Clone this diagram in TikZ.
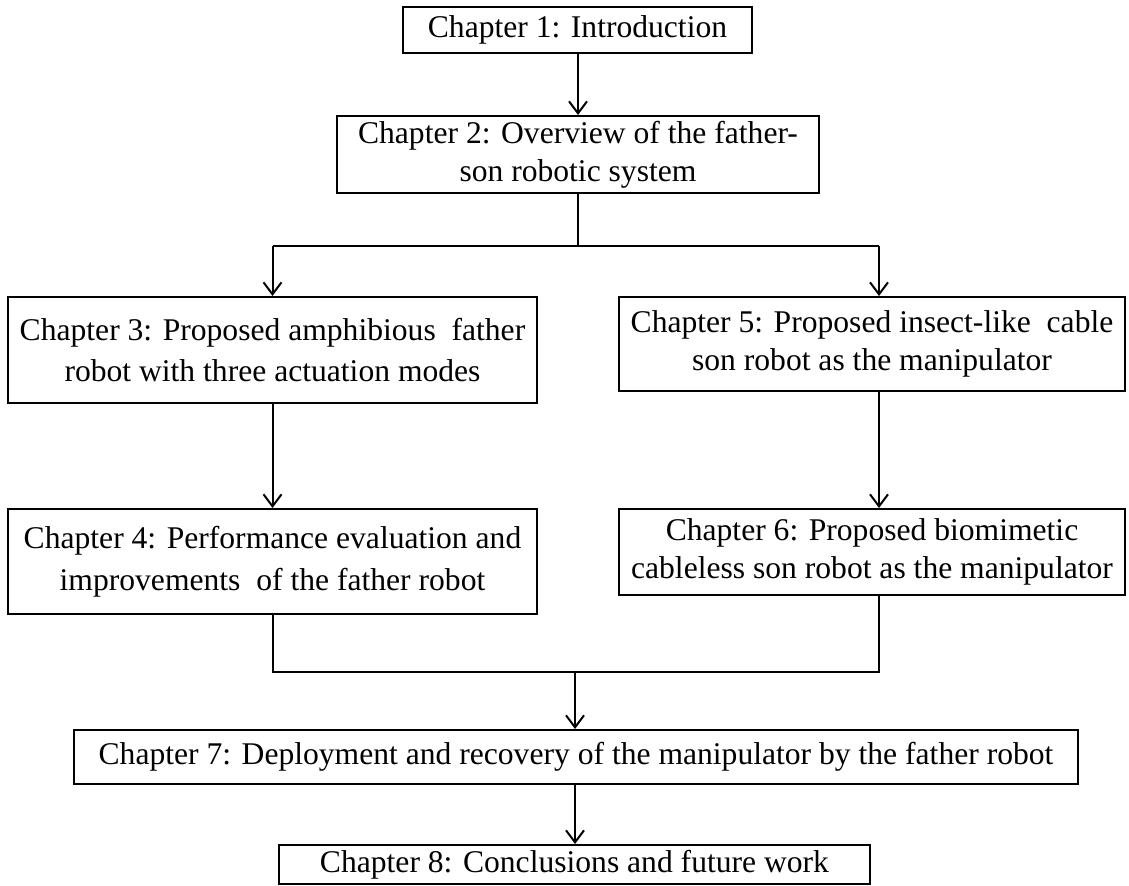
\documentclass[tikz,border=0pt]{standalone}
\usepackage{fontspec}
\setmainfont{Liberation Serif}
\usetikzlibrary{arrows.meta}
\begin{document}
\begin{tikzpicture}[x=0.5pt,y=-0.5pt,
  box/.style={draw, line width=1pt, inner sep=0pt, align=center, font=\fontsize{15.8}{19}\selectfont},
  conn/.style={line width=1pt},
  arr/.style={conn, -{Straight Barb[length=6pt,width=9pt,line width=1pt]}}]
\useasboundingbox (0,0) rectangle (1129,886);
\node[box, minimum width=174.5pt, minimum height=23pt] (b1) at (577.5,30) {Chapter 1: Introduction};
\node[box, minimum width=241pt, minimum height=38.5pt] (b2) at (578,154.5) {Chapter 2: Overview of the father-\\son robotic system};
\node[box, minimum width=264.5pt, minimum height=53pt, font=\fontsize{15.8}{20.5}\selectfont] (b3) at (272.5,350) {Chapter 3: Proposed amphibious\ \ father\\robot with three actuation modes};
\node[box, minimum width=253pt, minimum height=47pt, font=\fontsize{15.8}{18.8}\selectfont] (b5) at (872,344) {Chapter 5: Proposed insect-like\ \ cable\\son robot as the manipulator};
\node[box, minimum width=264.5pt, minimum height=52.5pt, font=\fontsize{15.8}{21}\selectfont] (b4) at (272.5,561.5) {Chapter 4: Performance evaluation and\\improvements\ \ of the father robot};
\node[box, minimum width=253pt, minimum height=43pt, font=\fontsize{15.8}{18.7}\selectfont] (b6) at (872,552) {Chapter 6: Proposed biomimetic\\cableless son robot as the manipulator};
\node[box, minimum width=502pt, minimum height=27pt] (b7) at (576,757) {Chapter 7: Deployment and recovery of the manipulator by the father robot};
\node[box, minimum width=295.5pt, minimum height=19.5pt] (b8) at (574.5,864.5) {Chapter 8: Conclusions and future work};
\coordinate (split) at (578,246);
\coordinate (sl) at (272.5,246);
\coordinate (sr) at (879,246);
\coordinate (ml) at (272.5,672);
\coordinate (mr) at (879,672);
\coordinate (mc) at (575,672);
\draw[arr] (b1.south -| split) -- (b2.north -| split);
\draw[conn] (b2.south -| split) -- (split);
\draw[conn] (sl) -- (sr);
\draw[arr] (sl) -- (sl |- b3.north);
\draw[arr] (sr) -- (sr |- b5.north);
\draw[arr] (b3.south) -- (b4.north);
\draw[arr] (sr |- b5.south) -- (sr |- b6.north);
\draw[conn] (b4.south) -- (ml) -- (mr) -- (mr |- b6.south);
\draw[arr] (mc) -- (mc |- b7.north);
\draw[arr] (mc |- b7.south) -- (mc |- b8.north);
\end{tikzpicture}
\end{document}
